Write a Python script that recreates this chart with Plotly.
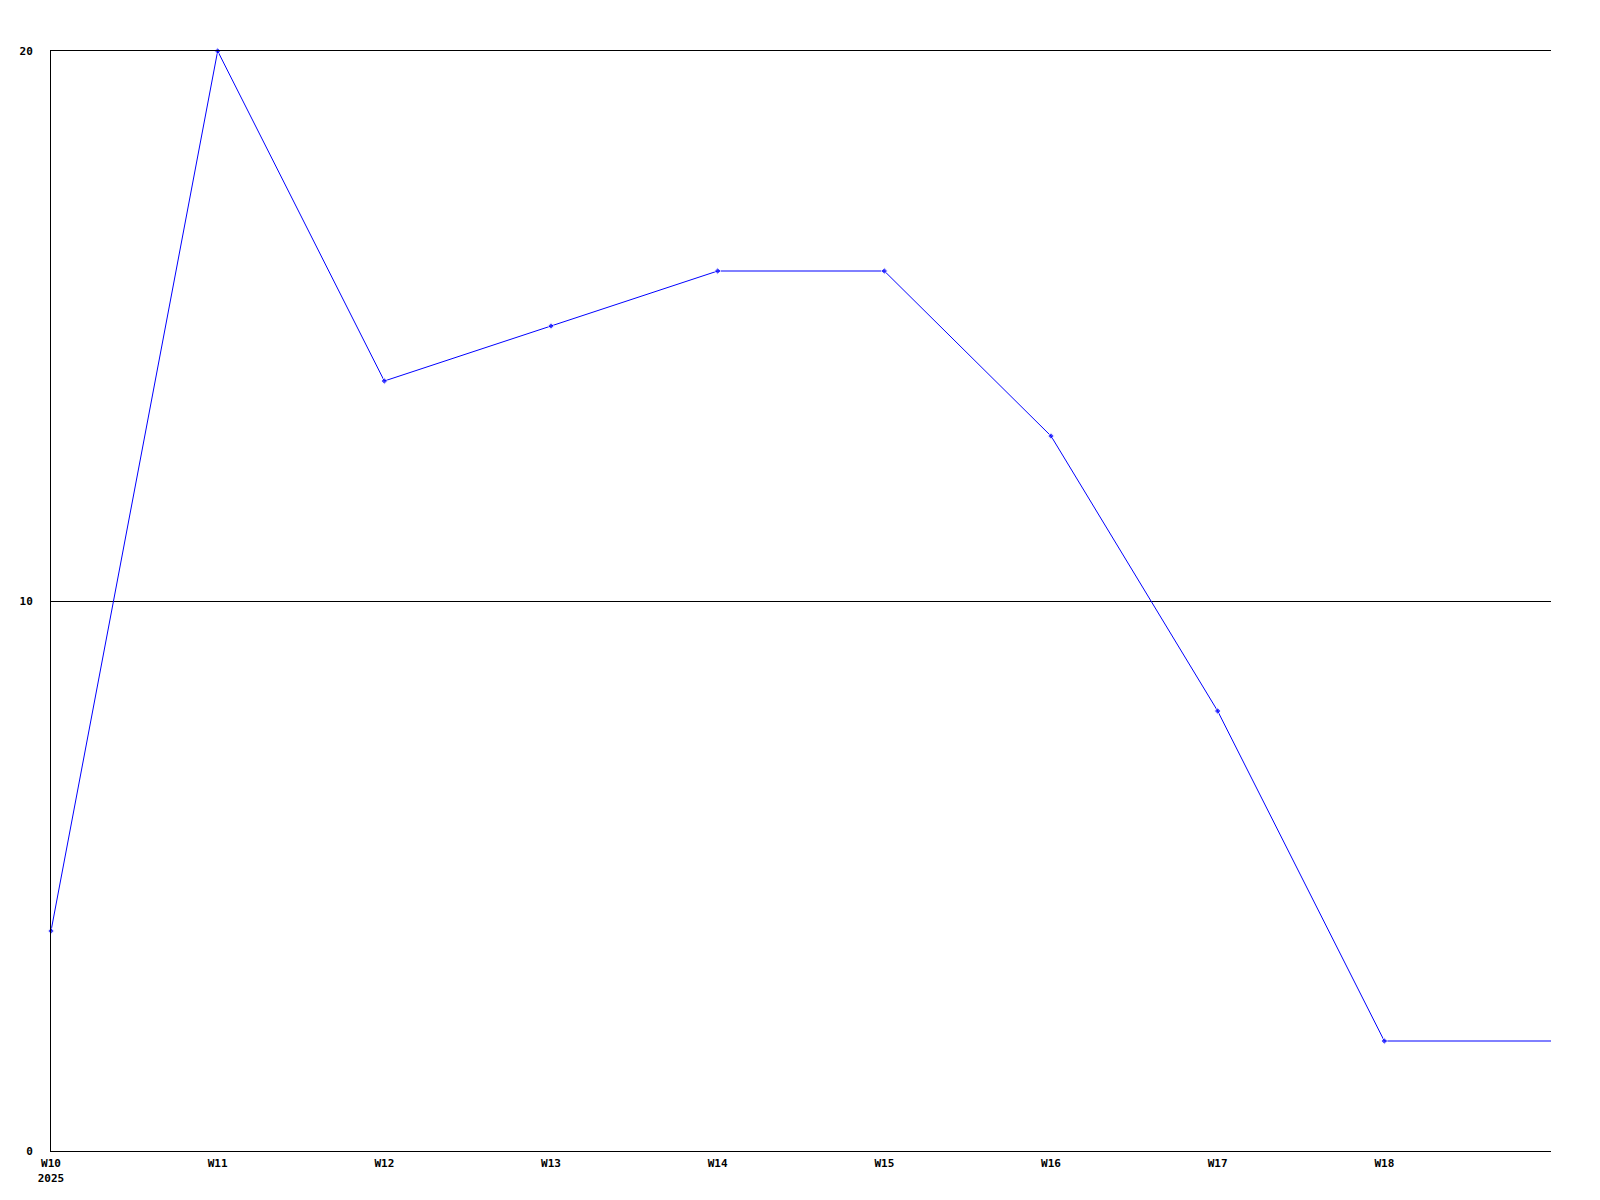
import plotly.graph_objects as go

weeks = ["W10", "W11", "W12", "W13", "W14", "W15", "W16", "W17", "W18", "W19"]
values = [4, 20, 14, 15, 16, 16, 13, 8, 2, 2]
tick_labels = ["W10<br>2025", "W11", "W12", "W13", "W14", "W15", "W16", "W17", "W18"]
y_ticks = [0, 10, 20]

fig = go.Figure()
fig.add_trace(go.Scatter(
    x=weeks, y=values, mode="lines+markers",
    line=dict(color="#0000ff", width=1),
    marker=dict(color="#0000ff", size=[5] * (len(values) - 1) + [0], symbol="diamond"),
    cliponaxis=False, showlegend=False,
))

font = dict(family="DejaVu Sans Mono", size=11, color="#000000", weight="bold")
fig.update_layout(
    width=1600, height=1200,
    margin=dict(l=43, r=57, t=43, b=57),
    paper_bgcolor="white", plot_bgcolor="white",
    xaxis=dict(
        type="category", range=[0, 9], tickvals=weeks[:9], ticktext=tick_labels,
        showgrid=False, showline=True, mirror=True, linecolor="black", linewidth=1,
        ticks="", tickfont=font, zeroline=False, ticklabelstandoff=2,
    ),
    yaxis=dict(
        range=[0, 20], tickvals=y_ticks, showgrid=True, gridcolor="black", gridwidth=1,
        showline=True, linecolor="black", linewidth=1, ticks="", tickfont=font,
        zeroline=False, ticklabelstandoff=15,
    ),
)
fig.write_html("out.html")
